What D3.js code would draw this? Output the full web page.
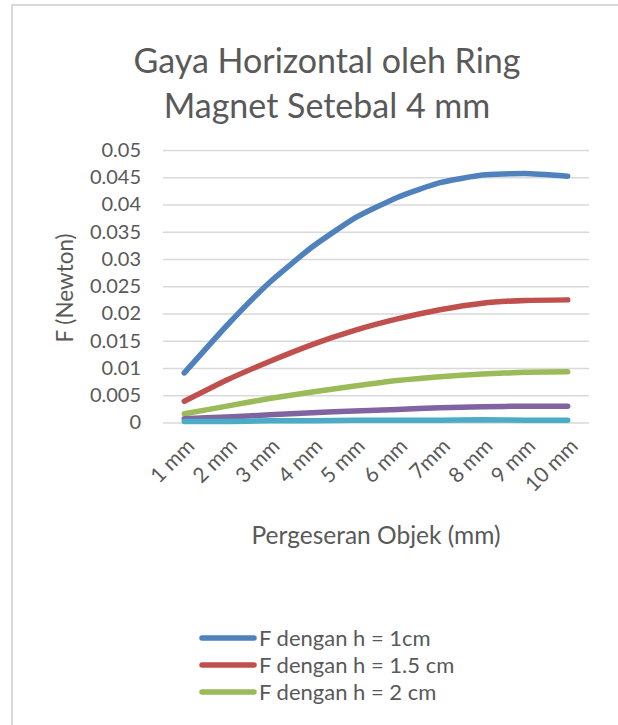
<!DOCTYPE html>
<html>
<head>
<meta charset="utf-8">
<script src="https://cdn.jsdelivr.net/npm/d3@7"></script>
<style>
  html, body { margin: 0; padding: 0; background: #fff; }
  svg { display: block; }
  text { font-family: Lato, "Open Sans", sans-serif; fill: #595959; }
</style>
</head>
<body>
<svg id="chart" width="618" height="725"></svg>
<script>
const titleLines = ["Gaya Horizontal oleh Ring", "Magnet Setebal 4 mm"];
const categories = ["1 mm", "2 mm", "3 mm", "4 mm", "5 mm", "6 mm", "7mm", "8 mm", "9 mm", "10 mm"];
const yTicks = [0, 0.005, 0.01, 0.015, 0.02, 0.025, 0.03, 0.035, 0.04, 0.045, 0.05];
const yTickLabels = ["0", "0.005", "0.01", "0.015", "0.02", "0.025", "0.03", "0.035", "0.04", "0.045", "0.05"];
const seriesNames = ["F dengan h = 1cm", "F dengan h = 1.5 cm", "F dengan h = 2 cm", "F dengan h = 2.5 cm", "F dengan h = 3 cm"];
const seriesColors = ["#4F81BD", "#C0504D", "#9BBB59", "#8064A2", "#4BACC6"];
const s1 = [0.0091, 0.0178, 0.0257, 0.0322, 0.0375, 0.0413, 0.0440, 0.0454, 0.0457, 0.0452];
const s2 = [0.0039, 0.0078, 0.0112, 0.0143, 0.0169, 0.0190, 0.0207, 0.0219, 0.0224, 0.0225];
const s3 = [0.0016, 0.0030, 0.0044, 0.0056, 0.0067, 0.0077, 0.0084, 0.0089, 0.0092, 0.0093];
const s4 = [0.0007, 0.0010, 0.0014, 0.0018, 0.0021, 0.0024, 0.0027, 0.0029, 0.0030, 0.0030];
const s5 = [0.0002, 0.0002, 0.0003, 0.0003, 0.0004, 0.0004, 0.0004, 0.0005, 0.0004, 0.0004];
const seriesValues = [s1, s2, s3, s4, s5];
const legendCount = 3; // only first three entries visible in the cropped chart
const xTitle = "Pergeseran Objek (mm)";
const yTitle = "F (Newton)";

const svg = d3.select("#chart");

// chart frame (cropped at right/bottom)
svg.append("rect")
  .attr("x", 12).attr("y", 5).attr("width", 800).attr("height", 900)
  .attr("fill", "#fff").attr("stroke", "#d9d9d9").attr("stroke-width", 2);

// title
svg.append("g").selectAll("text").data(titleLines).join("text")
  .attr("x", 327).attr("y", (d, i) => 73 + i * 45)
  .attr("text-anchor", "middle")
  .attr("font-size", 34)
  .text(d => d);

const x = d3.scalePoint().domain(categories).range([163, 589]).padding(0.5);
const y = d3.scaleLinear().domain([0, 0.05]).range([422.5, 150]);

// gridlines + y tick labels
const yAxis = d3.axisLeft(y).tickValues(yTicks)
  .tickFormat((d, i) => yTickLabels[i])
  .tickSize(-(589 - 163)).tickPadding(22);
const gy = svg.append("g").attr("transform", "translate(163,0)").call(yAxis);
gy.select(".domain").remove();
gy.selectAll(".tick line").attr("stroke", "#d9d9d9").attr("stroke-width", 1.5);
gy.selectAll(".tick text").attr("font-size", 20).attr("fill", "#595959")
  .attr("font-family", "Lato, 'Open Sans', sans-serif");

// x axis labels
const xAxis = d3.axisBottom(x).tickSize(0).tickPadding(0);
const gx = svg.append("g").attr("transform", "translate(0,422.5)").call(xAxis);
gx.select(".domain").remove();
gx.selectAll(".tick text")
  .attr("font-size", 21).attr("fill", "#595959")
  .attr("font-family", "Lato, 'Open Sans', sans-serif")
  .attr("text-anchor", "end")
  .attr("dy", null)
  .attr("transform", "translate(11,25) rotate(-45)");

// lines
const line = d3.line()
  .x((d, i) => x(categories[i]))
  .y(d => y(d))
  .curve(d3.curveCardinal.tension(0.5));

svg.append("g").selectAll("path").data(seriesValues).join("path")
  .attr("d", d => line(d))
  .attr("fill", "none")
  .attr("stroke", (d, i) => seriesColors[i])
  .attr("stroke-width", 5.5)
  .attr("stroke-linecap", "round")
  .attr("stroke-linejoin", "round");

// axis titles
svg.append("text")
  .attr("x", 376).attr("y", 544)
  .attr("text-anchor", "middle").attr("font-size", 24.5)
  .text(xTitle);

svg.append("text")
  .attr("transform", "translate(73,288) rotate(-90)")
  .attr("text-anchor", "middle").attr("font-size", 22.5)
  .text(yTitle);

// legend
const lg = svg.append("g");
const items = seriesNames.slice(0, legendCount);
items.forEach((name, i) => {
  const cy = 638 + i * 27;
  lg.append("line")
    .attr("x1", 202).attr("x2", 254).attr("y1", cy).attr("y2", cy)
    .attr("stroke", seriesColors[i]).attr("stroke-width", 5.5)
    .attr("stroke-linecap", "round");
  lg.append("text")
    .attr("x", 259).attr("y", cy + 7.5)
    .attr("font-size", 22)
    .text(name);
});
</script>
</body>
</html>
